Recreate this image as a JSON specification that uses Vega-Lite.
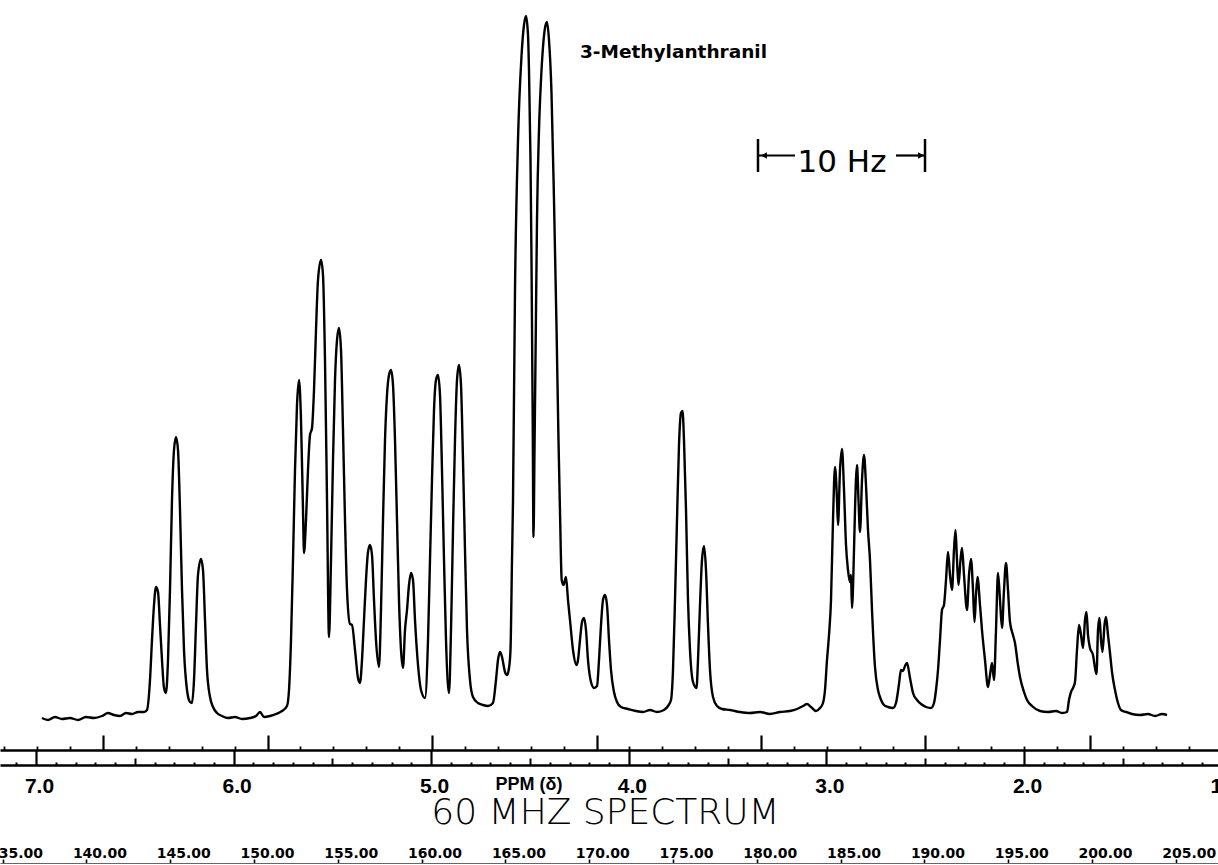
{
  "$schema": "https://vega.github.io/schema/vega-lite/v6.json",
  "width": 1218,
  "height": 865,
  "autosize": {"type": "none"},
  "padding": 0,
  "background": "white",
  "config": {"view": {"stroke": null}, "axis": {"grid": false, "title": null}},
  "datasets": {
    "spectrum": [
      {"p":6.9696,"i":0.2},{"p":6.9393,"i":0},{"p":6.9039,"i":0.3},{"p":6.8684,"i":0.1},{"p":6.8279,"i":0.2},{"p":6.7875,"i":0},{"p":6.7470,"i":0.3},{"p":6.7065,"i":0.2},
      {"p":6.6660,"i":0.4},{"p":6.6356,"i":0.7},{"p":6.6053,"i":0.5},{"p":6.5749,"i":0.4},{"p":6.5445,"i":0.7},{"p":6.5142,"i":0.6},{"p":6.4838,"i":0.8},{"p":6.4535,"i":0.8},{"p":6.4383,"i":1.0},
      {"p":6.4231,"i":4.0},{"p":6.4130,"i":8.0},{"p":6.4028,"i":11.5},{"p":6.3927,"i":13.3},{"p":6.3826,"i":12.8},{"p":6.3725,"i":9.5},{"p":6.3624,"i":6.0},{"p":6.3522,"i":3.2},{"p":6.3421,"i":2.7},
      {"p":6.3320,"i":6.0},{"p":6.3219,"i":13.0},{"p":6.3118,"i":22.0},{"p":6.3016,"i":27.0},{"p":6.2915,"i":28.3},{"p":6.2814,"i":27.0},{"p":6.2713,"i":21.0},{"p":6.2611,"i":13.0},{"p":6.2510,"i":7.0},{"p":6.2358,"i":3.0},{"p":6.2207,"i":1.8},{"p":6.2105,"i":1.7},
      {"p":6.2004,"i":4.0},{"p":6.1903,"i":9.5},{"p":6.1802,"i":14.5},{"p":6.1650,"i":16.1},{"p":6.1549,"i":15.0},{"p":6.1447,"i":10.0},{"p":6.1346,"i":5.0},{"p":6.1194,"i":2.3},{"p":6.1043,"i":1.3},{"p":6.0840,"i":0.7},
      {"p":6.0587,"i":0.4},{"p":6.0283,"i":0.2},{"p":5.9929,"i":0.3},{"p":5.9575,"i":0.1},{"p":5.9170,"i":0.2},{"p":5.8866,"i":0.4},{"p":5.8664,"i":0.8},{"p":5.8462,"i":0.3},{"p":5.8158,"i":0.4},{"p":5.7854,"i":0.6},{"p":5.7551,"i":0.9},{"p":5.7298,"i":1.4},
      {"p":5.7196,"i":3.0},{"p":5.7095,"i":8.0},{"p":5.6994,"i":16.0},{"p":5.6893,"i":25.0},{"p":5.6792,"i":31.5},{"p":5.6690,"i":34.0},{"p":5.6589,"i":30.0},{"p":5.6488,"i":21.0},{"p":5.6437,"i":16.7},
      {"p":5.6336,"i":20.0},{"p":5.6235,"i":25.0},{"p":5.6134,"i":28.5},{"p":5.6032,"i":29.2},{"p":5.5931,"i":33.0},{"p":5.5830,"i":39.0},{"p":5.5729,"i":44.0},{"p":5.5577,"i":46.0},{"p":5.5476,"i":44.5},{"p":5.5375,"i":36.0},{"p":5.5273,"i":22.0},{"p":5.5172,"i":8.3},
      {"p":5.5071,"i":16.0},{"p":5.4970,"i":26.0},{"p":5.4868,"i":34.0},{"p":5.4767,"i":38.0},{"p":5.4666,"i":39.2},{"p":5.4565,"i":37.0},{"p":5.4464,"i":29.0},{"p":5.4362,"i":20.0},{"p":5.4261,"i":13.0},{"p":5.4109,"i":9.6},{"p":5.4008,"i":9.5},{"p":5.3856,"i":7.0},{"p":5.3705,"i":4.2},{"p":5.3603,"i":3.7},
      {"p":5.3502,"i":6.0},{"p":5.3401,"i":10.0},{"p":5.3300,"i":14.0},{"p":5.3198,"i":16.8},{"p":5.3097,"i":17.5},{"p":5.2996,"i":16.5},{"p":5.2895,"i":12.0},{"p":5.2794,"i":8.0},{"p":5.2642,"i":5.3},
      {"p":5.2541,"i":11.0},{"p":5.2439,"i":20.0},{"p":5.2338,"i":28.0},{"p":5.2237,"i":32.5},{"p":5.2136,"i":34.5},{"p":5.2034,"i":35.0},{"p":5.1933,"i":33.5},{"p":5.1832,"i":28.0},{"p":5.1731,"i":20.0},{"p":5.1630,"i":12.0},{"p":5.1528,"i":7.0},{"p":5.1427,"i":5.2},
      {"p":5.1326,"i":9.0},{"p":5.1225,"i":11.0},{"p":5.1124,"i":13.5},{"p":5.1022,"i":14.7},{"p":5.0921,"i":14.0},{"p":5.0820,"i":10.0},{"p":5.0668,"i":5.5},{"p":5.0516,"i":3.0},{"p":5.0314,"i":2.2},
      {"p":5.0162,"i":8.0},{"p":5.0061,"i":16.0},{"p":4.9960,"i":24.0},{"p":4.9858,"i":31.0},{"p":4.9757,"i":34.0},{"p":4.9656,"i":34.5},{"p":4.9555,"i":32.5},{"p":4.9454,"i":25.0},{"p":4.9352,"i":16.0},{"p":4.9251,"i":8.0},{"p":4.9099,"i":2.7},
      {"p":4.8998,"i":9.0},{"p":4.8897,"i":19.0},{"p":4.8796,"i":28.0},{"p":4.8694,"i":34.0},{"p":4.8593,"i":35.5},{"p":4.8492,"i":33.5},{"p":4.8391,"i":26.0},{"p":4.8290,"i":17.0},{"p":4.8188,"i":9.0},{"p":4.8037,"i":4.0},{"p":4.7885,"i":2.3},{"p":4.7632,"i":1.7},{"p":4.7379,"i":1.5},{"p":4.7126,"i":1.4},{"p":4.6873,"i":1.7},
      {"p":4.6721,"i":4.0},{"p":4.6620,"i":6.0},{"p":4.6518,"i":6.8},{"p":4.6417,"i":6.3},{"p":4.6265,"i":4.8},{"p":4.6164,"i":4.5},{"p":4.6063,"i":5.2},{"p":4.5987,"i":7.0},{"p":4.5911,"i":16.0},{"p":4.5860,"i":22.0},
      {"p":4.5759,"i":43.0},{"p":4.5607,"i":58.0},{"p":4.5430,"i":66.4},{"p":4.5304,"i":69.5},{"p":4.5203,"i":70.4},{"p":4.5101,"i":68.5},{"p":4.5051,"i":65.0},{"p":4.4975,"i":56.0},{"p":4.4924,"i":46.0},{"p":4.4863,"i":30.0},{"p":4.4823,"i":18.3},
      {"p":4.4772,"i":27.0},{"p":4.4722,"i":36.0},{"p":4.4646,"i":50.0},{"p":4.4545,"i":59.0},{"p":4.4443,"i":64.0},{"p":4.4342,"i":67.3},{"p":4.4241,"i":69.2},{"p":4.4140,"i":69.8},{"p":4.4039,"i":68.0},{"p":4.3912,"i":62.7},{"p":4.3786,"i":52.0},{"p":4.3659,"i":39.4},{"p":4.3558,"i":28.0},{"p":4.3482,"i":20.8},{"p":4.3396,"i":14.0},{"p":4.3305,"i":13.5},{"p":4.3178,"i":14.3},{"p":4.3077,"i":12.0},{"p":4.2976,"i":10.0},{"p":4.2824,"i":7.0},{"p":4.2647,"i":5.5},
      {"p":4.2571,"i":6.0},{"p":4.2470,"i":8.0},{"p":4.2368,"i":9.8},{"p":4.2267,"i":10.2},{"p":4.2166,"i":9.0},{"p":4.2065,"i":6.0},{"p":4.1913,"i":3.8},{"p":4.1761,"i":3.2},{"p":4.1609,"i":3.4},
      {"p":4.1508,"i":6.0},{"p":4.1407,"i":9.5},{"p":4.1306,"i":12.0},{"p":4.1205,"i":12.5},{"p":4.1103,"i":11.5},{"p":4.1002,"i":8.0},{"p":4.0901,"i":5.0},{"p":4.0749,"i":2.8},{"p":4.0597,"i":1.8},{"p":4.0395,"i":1.3},
      {"p":4.0041,"i":1.1},{"p":3.9636,"i":0.9},{"p":3.9281,"i":0.8},{"p":3.8927,"i":1.0},{"p":3.8573,"i":0.8},{"p":3.8219,"i":1.0},{"p":3.8016,"i":1.4},
      {"p":3.7864,"i":2.0},{"p":3.7763,"i":5.0},{"p":3.7662,"i":12.0},{"p":3.7561,"i":20.0},{"p":3.7460,"i":27.5},{"p":3.7358,"i":30.7},{"p":3.7282,"i":30.9},{"p":3.7207,"i":28.0},{"p":3.7105,"i":21.0},{"p":3.7004,"i":12.0},{"p":3.6903,"i":7.0},{"p":3.6751,"i":3.8},{"p":3.6574,"i":3.2},
      {"p":3.6498,"i":6.0},{"p":3.6397,"i":11.5},{"p":3.6296,"i":16.0},{"p":3.6194,"i":17.4},{"p":3.6093,"i":15.0},{"p":3.5992,"i":9.5},{"p":3.5891,"i":5.0},{"p":3.5739,"i":2.3},{"p":3.5537,"i":1.4},{"p":3.5283,"i":1.1},
      {"p":3.4879,"i":1.0},{"p":3.4373,"i":0.8},{"p":3.3866,"i":0.7},{"p":3.3360,"i":0.8},{"p":3.2854,"i":0.6},{"p":3.2348,"i":0.8},{"p":3.1842,"i":0.9},{"p":3.1488,"i":1.1},{"p":3.1184,"i":1.4},{"p":3.0982,"i":1.6},{"p":3.0779,"i":1.3},{"p":3.0526,"i":0.9},{"p":3.0324,"i":1.2},
      {"p":3.0172,"i":1.7},{"p":3.0071,"i":3.0},{"p":2.9970,"i":6.0},{"p":2.9868,"i":8.5},{"p":2.9767,"i":12.0},{"p":2.9666,"i":20.0},{"p":2.9565,"i":25.3},{"p":2.9464,"i":22.0},{"p":2.9413,"i":19.5},{"p":2.9312,"i":25.0},{"p":2.9211,"i":27.1},{"p":2.9109,"i":23.0},{"p":2.9008,"i":17.5},{"p":2.8907,"i":15.0},{"p":2.8806,"i":13.8},{"p":2.8755,"i":14.5},{"p":2.8705,"i":11.2},
      {"p":2.8603,"i":17.0},{"p":2.8553,"i":21.0},{"p":2.8451,"i":25.5},{"p":2.8376,"i":22.0},{"p":2.8300,"i":18.8},{"p":2.8198,"i":24.0},{"p":2.8097,"i":26.5},{"p":2.7996,"i":23.5},{"p":2.7895,"i":19.0},{"p":2.7794,"i":16.0},{"p":2.7692,"i":11.0},{"p":2.7541,"i":5.3},{"p":2.7389,"i":3.0},{"p":2.7288,"i":2.3},{"p":2.7085,"i":1.5},{"p":2.6883,"i":1.3},{"p":2.6630,"i":1.2},{"p":2.6478,"i":1.7},
      {"p":2.6326,"i":3.6},{"p":2.6225,"i":5.0},{"p":2.6124,"i":4.9},{"p":2.6022,"i":5.4},{"p":2.5921,"i":5.7},{"p":2.5769,"i":4.2},{"p":2.5617,"i":2.7},{"p":2.5415,"i":2.0},{"p":2.5213,"i":1.6},{"p":2.4960,"i":1.3},{"p":2.4707,"i":1.2},{"p":2.4555,"i":1.7},
      {"p":2.4453,"i":3.0},{"p":2.4352,"i":5.0},{"p":2.4251,"i":8.0},{"p":2.4150,"i":11.0},{"p":2.4049,"i":11.5},{"p":2.3947,"i":14.0},{"p":2.3846,"i":16.8},{"p":2.3745,"i":14.5},{"p":2.3644,"i":13.0},{"p":2.3543,"i":17.0},{"p":2.3467,"i":19.0},{"p":2.3391,"i":16.0},{"p":2.3315,"i":13.5},{"p":2.3214,"i":16.0},{"p":2.3138,"i":17.2},{"p":2.3036,"i":14.5},{"p":2.2885,"i":11.0},{"p":2.2783,"i":14.5},{"p":2.2682,"i":16.1},{"p":2.2581,"i":13.0},{"p":2.2505,"i":9.8},{"p":2.2429,"i":12.5},{"p":2.2353,"i":14.3},{"p":2.2227,"i":11.5},{"p":2.2126,"i":9.0},{"p":2.1974,"i":6.0},{"p":2.1822,"i":3.3},{"p":2.1721,"i":4.5},{"p":2.1619,"i":5.7},{"p":2.1518,"i":4.0},
      {"p":2.1417,"i":9.0},{"p":2.1316,"i":14.7},{"p":2.1215,"i":12.0},{"p":2.1113,"i":9.2},{"p":2.1012,"i":13.0},{"p":2.0911,"i":15.7},{"p":2.0810,"i":13.0},{"p":2.0709,"i":9.8},{"p":2.0557,"i":8.5},{"p":2.0456,"i":7.7},{"p":2.0304,"i":5.5},{"p":2.0203,"i":4.3},{"p":2.0000,"i":2.8},{"p":1.9848,"i":2.0},{"p":1.9595,"i":1.4},{"p":1.9190,"i":0.9},{"p":1.8785,"i":0.8},{"p":1.8381,"i":0.9},{"p":1.8077,"i":0.7},{"p":1.7824,"i":0.8},
      {"p":1.7723,"i":2.0},{"p":1.7621,"i":2.8},{"p":1.7520,"i":3.2},{"p":1.7419,"i":3.8},{"p":1.7318,"i":7.0},{"p":1.7216,"i":9.5},{"p":1.7115,"i":8.5},{"p":1.7014,"i":7.2},{"p":1.6913,"i":10.0},{"p":1.6837,"i":10.8},{"p":1.6761,"i":8.5},{"p":1.6660,"i":7.2},{"p":1.6508,"i":6.5},{"p":1.6407,"i":5.2},{"p":1.6331,"i":4.6},{"p":1.6255,"i":9.0},{"p":1.6180,"i":10.2},{"p":1.6103,"i":8.0},{"p":1.6027,"i":6.8},{"p":1.5926,"i":9.5},{"p":1.5850,"i":10.3},{"p":1.5749,"i":8.5},{"p":1.5648,"i":6.7},{"p":1.5547,"i":4.8},{"p":1.5395,"i":3.0},{"p":1.5243,"i":1.7},{"p":1.5091,"i":1.0},
      {"p":1.4838,"i":0.8},{"p":1.4534,"i":0.6},{"p":1.4130,"i":0.5},{"p":1.3725,"i":0.6},{"p":1.3370,"i":0.4},{"p":1.3016,"i":0.6},{"p":1.2763,"i":0.5}
    ],
    "scale2": [
      {"f":135},{"f":140},{"f":145},{"f":150},{"f":155},{"f":160},{"f":165},{"f":170},{"f":175},{"f":180},{"f":185},{"f":190},{"f":195},{"f":200},{"f":205}
    ]
  },
  "layer": [
    {
      "layer": [
        {
          "data": {"name": "spectrum"},
          "mark": {"type": "line", "color": "black", "strokeWidth": 2.4, "interpolate": "monotone"},
          "encoding": {
            "x": {"field": "p", "type": "quantitative",
              "scale": {"domain": [1.0, 7.1822], "range": [0, 1221.6], "reverse": true, "nice": false, "zero": false},
              "axis": {"orient": "top", "offset": -765, "values": [7, 6, 5, 4, 3, 2, 1], "tickSize": 15, "tickWidth": 2.2, "tickColor": "black", "domain": true, "domainColor": "black", "domainWidth": 2.5, "labels": false, "title": null}},
            "y": {"field": "i", "type": "quantitative", "scale": {"domain": [-14.5, 72], "nice": false, "zero": false}, "axis": null}
          }
        },
        {
          "data": {"values": [{"p": 4.1179, "i": -10.4, "t": "60 MHZ SPECTRUM"}]},
          "mark": {"type": "text", "font": "DejaVu Sans", "fontWeight": 200, "fontSize": 36, "align": "center", "baseline": "alphabetic", "color": "black"},
          "encoding": {
            "x": {"field": "p", "type": "quantitative",
              "scale": {"domain": [1.0, 7.1822], "range": [0, 1221.6], "reverse": true, "nice": false, "zero": false},
              "axis": {"orient": "top", "offset": -765, "values": [6.5, 5.5, 4.5, 3.5, 2.5, 1.5], "tickSize": 7, "tickWidth": 2, "tickColor": "black", "domain": false, "labels": false, "title": null}},
            "y": {"field": "i", "type": "quantitative", "scale": {"domain": [-14.5, 72], "nice": false, "zero": false}, "axis": null},
            "text": {"field": "t"}
          }
        },
        {
          "data": {"values": [{"p": 4.5051, "i": -7.0, "t": "PPM (δ)"}]},
          "mark": {"type": "text", "font": "Liberation Sans", "fontWeight": "bold", "fontSize": 18, "align": "center", "baseline": "alphabetic", "color": "black"},
          "encoding": {
            "x": {"field": "p", "type": "quantitative",
              "scale": {"domain": [1.0, 7.1822], "range": [0, 1221.6], "reverse": true, "nice": false, "zero": false},
              "axis": {"orient": "top", "offset": -765, "values": [7.1,6.9,6.8,6.7,6.6,6.4,6.3,6.2,6.1,5.9,5.8,5.7,5.6,5.4,5.3,5.2,5.1,4.9,4.8,4.7,4.6,4.4,4.3,4.2,4.1,3.9,3.8,3.7,3.6,3.4,3.3,3.2,3.1,2.9,2.8,2.7,2.6,2.4,2.3,2.2,2.1,1.9,1.8,1.7,1.6,1.4,1.3,1.2,1.1], "tickSize": 3, "tickWidth": 2, "tickColor": "black", "domain": false, "labels": false, "title": null}},
            "y": {"field": "i", "type": "quantitative", "scale": {"domain": [-14.5, 72], "nice": false, "zero": false}, "axis": null},
            "text": {"field": "t"}
          }
        },
        {
          "data": {"values": [{"p": 4.2470, "i": 66.2, "t": "3-Methylanthranil"}]},
          "mark": {"type": "text", "font": "DejaVu Sans", "fontWeight": "bold", "fontSize": 18.5, "align": "left", "baseline": "alphabetic", "color": "black"},
          "encoding": {
            "x": {"field": "p", "type": "quantitative",
              "scale": {"domain": [1.0, 7.1822], "range": [0, 1221.6], "reverse": true, "nice": false, "zero": false},
              "axis": {"orient": "bottom", "offset": -73, "values": [7, 6, 5, 4, 3, 2, 1], "format": ".1f", "ticks": false, "domain": false, "labelPadding": 0, "labelBaseline": "alphabetic", "labelOffset": 3, "labelFont": "Liberation Sans", "labelFontWeight": "bold", "labelFontSize": 21, "labelColor": "black", "labelFlush": false, "labelOverlap": false, "title": null}},
            "y": {"field": "i", "type": "quantitative", "scale": {"domain": [-14.5, 72], "nice": false, "zero": false}, "axis": null},
            "text": {"field": "t"}
          }
        },
        {
          "data": {"values": [{"p": 2.9211, "i": 54.8, "t": "10 Hz"}]},
          "mark": {"type": "text", "font": "DejaVu Sans", "fontSize": 31, "align": "center", "baseline": "alphabetic", "color": "black"},
          "encoding": {
            "x": {"field": "p", "type": "quantitative",
              "scale": {"domain": [1.0, 7.1822], "range": [0, 1221.6], "reverse": true, "nice": false, "zero": false},
              "axis": {"orient": "top", "offset": -750, "values": [6.6609, 5.8284, 4.9959, 4.1634, 3.3310, 2.4985, 1.6660], "tickSize": 15, "tickWidth": 2.2, "tickColor": "black", "domain": true, "domainColor": "black", "domainWidth": 2.5, "labels": false, "title": null}},
            "y": {"field": "i", "type": "quantitative", "scale": {"domain": [-14.5, 72], "nice": false, "zero": false}, "axis": null},
            "text": {"field": "t"}
          }
        },
        {
          "data": {"values": [{"p": 3.3462, "i": 58.1, "i2": 54.8}, {"p": 2.5010, "i": 58.1, "i2": 54.8}]},
          "mark": {"type": "rule", "color": "black", "strokeWidth": 2.5},
          "encoding": {
            "x": {"field": "p", "type": "quantitative",
              "scale": {"domain": [1.0, 7.1822], "range": [0, 1221.6], "reverse": true, "nice": false, "zero": false},
              "axis": {"orient": "top", "offset": -750, "values": [7.1604, 6.9939, 6.8274, 6.4944, 6.3279, 6.1614, 5.9949, 5.6619, 5.4954, 5.3289, 5.1624, 4.8294, 4.6629, 4.4964, 4.3299, 3.9969, 3.8304, 3.6639, 3.4974, 3.1645, 2.9980, 2.8315, 2.6650, 2.3320, 2.1655, 1.9990, 1.8325, 1.4995, 1.3330, 1.1665], "tickSize": 4, "tickWidth": 1.8, "tickColor": "black", "domain": false, "labels": false, "title": null}},
            "y": {"field": "i", "type": "quantitative", "scale": {"domain": [-14.5, 72], "nice": false, "zero": false}, "axis": null},
            "y2": {"field": "i2"}
          }
        },
        {
          "data": {"values": [{"p": 3.3462, "p2": 3.1589, "i": 56.45}, {"p": 2.6478, "p2": 2.5010, "i": 56.45}]},
          "mark": {"type": "rule", "color": "black", "strokeWidth": 2.2},
          "encoding": {
            "x": {"field": "p", "type": "quantitative", "scale": {"domain": [1.0, 7.1822], "range": [0, 1221.6], "reverse": true, "nice": false, "zero": false}, "axis": null},
            "x2": {"field": "p2"},
            "y": {"field": "i", "type": "quantitative", "scale": {"domain": [-14.5, 72], "nice": false, "zero": false}, "axis": null}
          }
        },
        {
          "data": {"values": [{"p": 3.3158, "i": 56.45, "d": "left"}, {"p": 2.5213, "i": 56.45, "d": "right"}]},
          "mark": {"type": "point", "filled": true, "color": "black", "size": 45, "opacity": 1},
          "encoding": {
            "x": {"field": "p", "type": "quantitative", "scale": {"domain": [1.0, 7.1822], "range": [0, 1221.6], "reverse": true, "nice": false, "zero": false}, "axis": null},
            "y": {"field": "i", "type": "quantitative", "scale": {"domain": [-14.5, 72], "nice": false, "zero": false}, "axis": null},
            "shape": {"field": "d", "type": "nominal", "scale": {"domain": ["left", "right"], "range": ["triangle-left", "triangle-right"]}, "legend": null}
          }
        }
      ],
      "resolve": {"axis": {"x": "independent"}}
    },
    {
      "data": {"name": "scale2"},
      "mark": {"type": "point", "opacity": 0},
      "encoding": {
        "x": {"field": "f", "type": "quantitative",
          "scale": {"domain": [134.845, 207.518], "nice": false, "zero": false},
          "axis": {"orient": "top", "offset": -863, "values": [135, 140, 145, 150, 155, 160, 165, 170, 175, 180, 185, 190, 195, 200, 205], "format": ".2f", "tickSize": 4, "tickWidth": 1.6, "tickColor": "black", "domain": true, "domainColor": "#666666", "domainWidth": 1.2, "labelPadding": 2, "labelBaseline": "alphabetic", "labelOffset": 13, "labelFont": "DejaVu Sans", "labelFontWeight": "bold", "labelFontSize": 14, "labelColor": "black", "labelFlush": false, "labelOverlap": false, "title": null}}
      }
    }
  ],
  "resolve": {"scale": {"x": "independent"}, "axis": {"x": "independent"}}
}
